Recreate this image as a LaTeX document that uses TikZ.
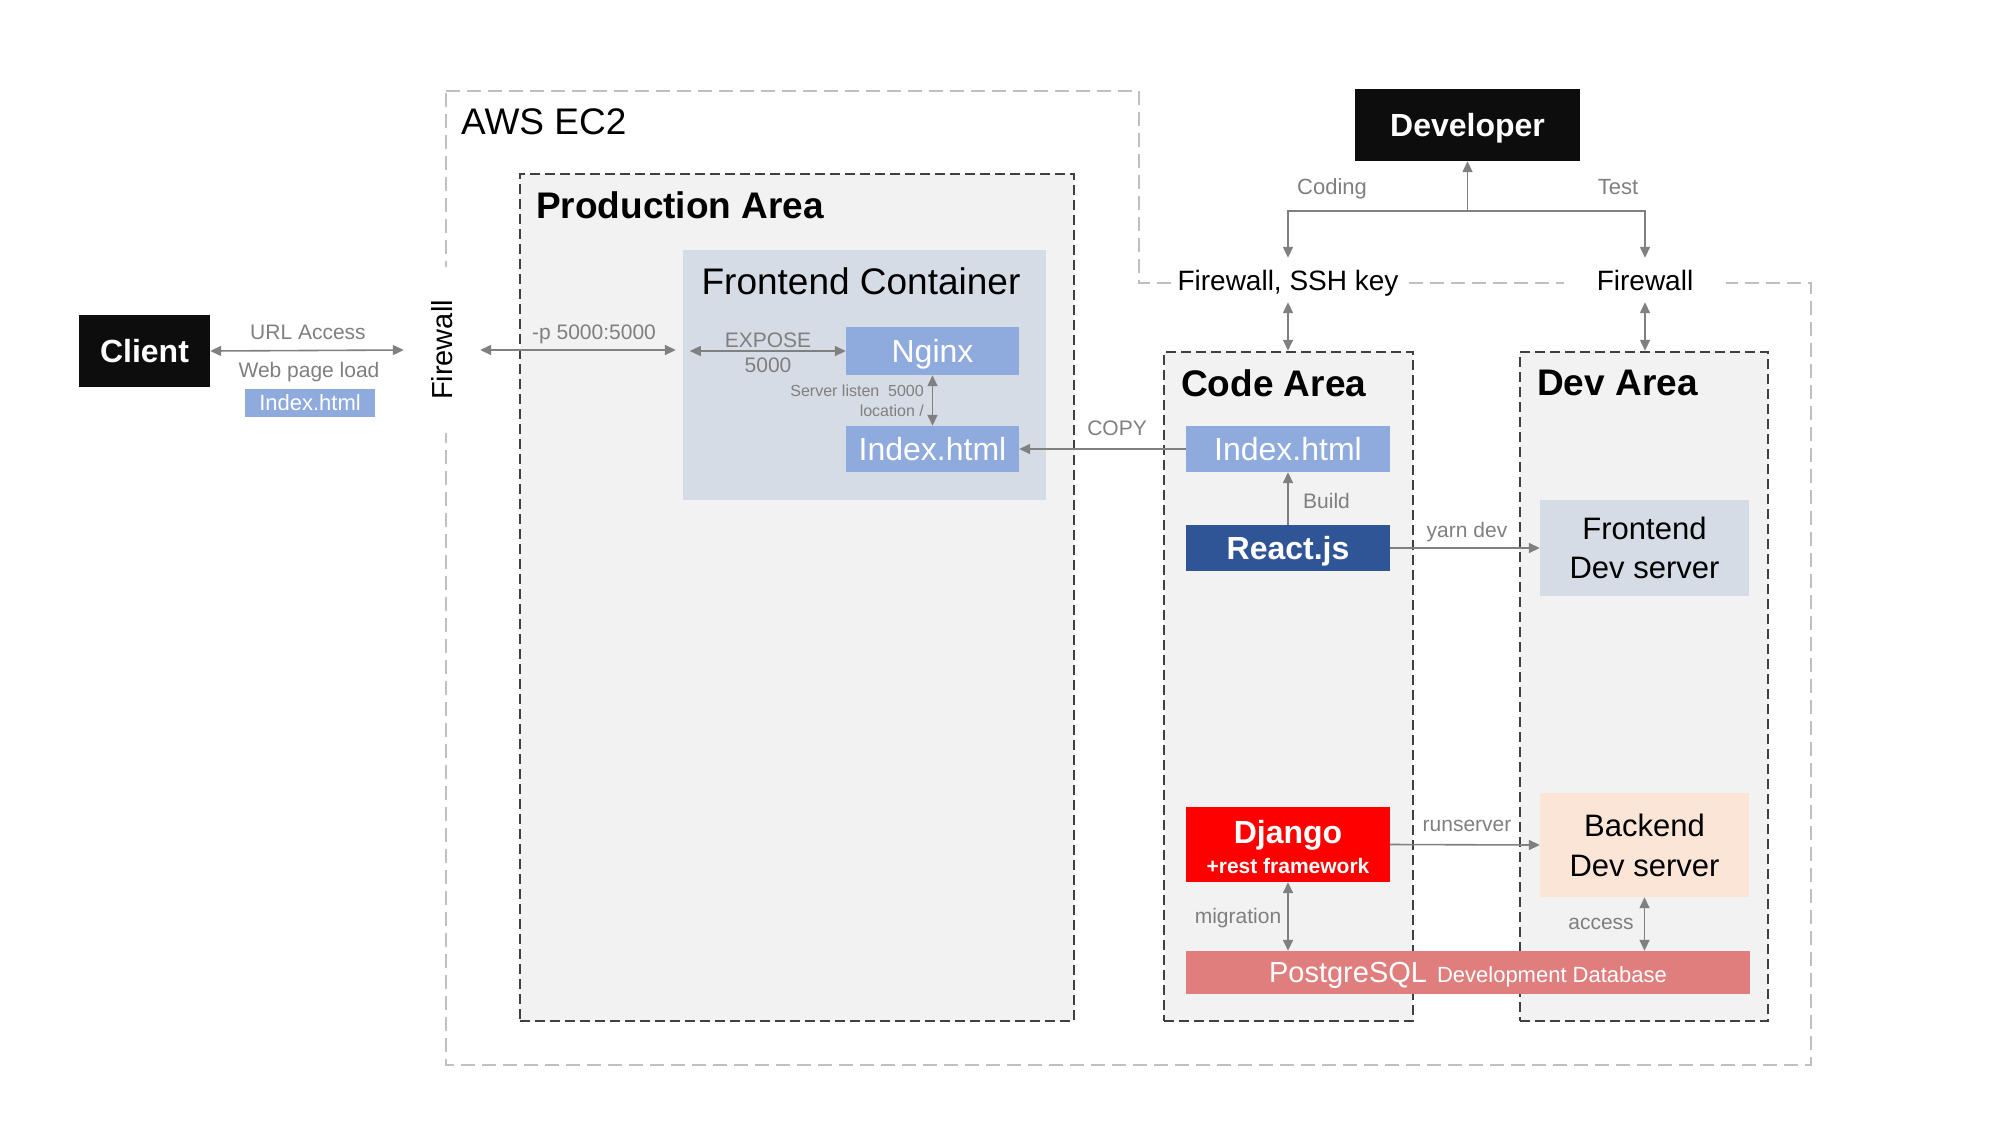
\documentclass[tikz,border=0pt]{standalone}
\usepackage{fontspec}
\setmainfont{Liberation Sans}
\usetikzlibrary{arrows.meta}
\newcommand\fsz[2]{\fontsize{#1pt}{#2pt}\selectfont}
\definecolor{arrgray}{HTML}{808080}
\definecolor{lblgray}{HTML}{7F7F7F}
\definecolor{areafill}{HTML}{F2F2F2}
\definecolor{areaborder}{HTML}{404040}
\definecolor{awsgray}{HTML}{C0C0C0}
\definecolor{contfill}{HTML}{D6DCE5}
\definecolor{lightblue}{HTML}{8FAADC}
\definecolor{darkblue}{HTML}{2F5597}
\definecolor{djred}{HTML}{FF0000}
\definecolor{peach}{HTML}{FBE5D6}
\definecolor{pgred}{HTML}{E07E7E}
\definecolor{nearblack}{HTML}{0D0D0D}
\begin{document}
\begin{tikzpicture}[x=1pt,y=-1pt,
  awsline/.style={draw=awsgray, line width=2pt, dash pattern=on 14pt off 7pt},
  area/.style={fill=areafill, draw=areaborder, line width=2.5pt, dash pattern=on 10pt off 5pt, inner sep=0pt},
  nodepth/.style={text depth=0pt},
  blackbox/.style={fill=nearblack, text=white, font=\bfseries\fsz{32}{38}, inner sep=0pt, align=center, nodepth},
  bluebox/.style={fill=lightblue, text=white, inner sep=0pt, align=center, nodepth},
  darkbox/.style={fill=darkblue, text=white, inner sep=0pt, align=center, nodepth},
  redbox/.style={fill=djred, text=white, inner sep=0pt, align=center},
  paleblue/.style={fill=contfill, text=black, inner sep=0pt, align=center},
  peachbox/.style={fill=peach, text=black, inner sep=0pt, align=center},
  pgbox/.style={fill=pgred, text=white, inner sep=0pt, align=center, nodepth},
  lbl/.style={text=lblgray, font=\fsz{21}{25}, inner sep=0pt, align=center, nodepth},
  title/.style={text=black, inner sep=0pt, anchor=west},
  gapnode/.style={fill=white, text=black, inner sep=0pt, nodepth},
  arr/.style={draw=arrgray, line width=1.6pt, -{Triangle[length=11pt,width=10pt]}},
  biarr/.style={draw=arrgray, line width=1.6pt, {Triangle[length=11pt,width=10pt]}-{Triangle[length=11pt,width=10pt]}}
]
\useasboundingbox (0,0) rectangle (1993,1125);

% AWS EC2 outline
\draw[awsline] (446,91) -- (1139,91) -- (1139,283) -- (1811,283) -- (1811,1065) -- (446,1065) -- cycle;
\node[title, font=\fsz{37}{42}] (aws) at (461,122) {AWS EC2};

% firewall labels cutting the outline
\node[gapnode, minimum width=76pt, minimum height=166pt] (fw) at (442,350) {\rotatebox{90}{\fsz{29}{35}Firewall}};
\node[gapnode, font=\fsz{28}{34}, inner xsep=6pt, minimum height=44pt] (fwssh) at (1288,280) {Firewall, SSH key};
\node[gapnode, font=\fsz{28}{34}, inner xsep=33pt, minimum height=44pt] (fwdev) at (1645,280) {Firewall};

% Client
\node[blackbox, minimum width=131pt, minimum height=72pt] (client) at (144.5,351) {Client};
\node[bluebox, font=\fsz{22}{26}, minimum width=130pt, minimum height=28pt] (idxs) at (310,403) {Index.html};
\node[lbl] (urlacc) at (308,332) {URL Access};
\node[lbl] (webload) at (309,370) {Web page load};

% Production area
\node[area, minimum width=554pt, minimum height=847pt] (prod) at (797,597.5) {};
\node[title, font=\bfseries\fsz{37}{42}] (prodt) at (536,205) {Production Area};
\node[paleblue, minimum width=363pt, minimum height=250pt] (fc) at (864.5,375) {};
\node[inner sep=0pt, font=\fsz{37}{42}, nodepth] (fct) at (861,281) {Frontend Container};
\node[bluebox, font=\fsz{32}{38}, minimum width=173pt, minimum height=48pt] (nginx) at (932.5,351) {Nginx};
\node[bluebox, font=\fsz{32}{38}, minimum width=173pt, minimum height=46pt] (pidx) at (932.5,449) {Index.html};
\node[lbl] (expose) at (768,353) {EXPOSE\\5000};
\node[lbl, font=\fsz{16}{20}, anchor=east, align=right] (listen) at (924,401) {Server listen\ \ 5000\\location /};
\node[lbl] (portmap) at (594,332) {-p 5000:5000};

% Code area
\node[area, minimum width=249pt, minimum height=669pt] (code) at (1288.5,686.5) {};
\node[title, font=\bfseries\fsz{37}{42}] (codet) at (1181,383) {Code Area};
\node[bluebox, font=\fsz{32}{38}, minimum width=204pt, minimum height=46pt] (cidx) at (1288,449) {Index.html};
\node[darkbox, font=\bfseries\fsz{32}{38}, minimum width=204pt, minimum height=46pt] (react) at (1288,548) {React.js};
\node[redbox, font=\bfseries\fsz{32}{30}, minimum width=204pt, minimum height=75pt] (django) at (1288,844.5) {};
\node[inner sep=0pt, text=white, font=\bfseries\fsz{32}{30}, align=center] (djtxt) at (1288,846.5) {Django\\{\fsz{21}{25}+rest framework}};

% Dev area
\node[area, minimum width=248pt, minimum height=669pt] (devarea) at (1644,686.5) {};
\node[title, font=\bfseries\fsz{37}{42}] (devt) at (1537,383) {Dev Area};
\node[paleblue, font=\fsz{31}{39}, minimum width=209pt, minimum height=96pt] (fds) at (1644.5,548) {Frontend\\Dev server};
\node[peachbox, font=\fsz{31}{40}, minimum width=209pt, minimum height=104pt] (bds) at (1644.5,845) {Backend\\Dev server};

% PostgreSQL
\node[pgbox, minimum width=564pt, minimum height=43pt] (pg) at (1468,972.5) {{\fsz{29}{35}PostgreSQL}\hspace{10pt}{\fsz{22}{26}Development Database}};

% Developer
\node[blackbox, minimum width=225pt, minimum height=72pt] (dev) at (1467.5,125) {Developer};
\coordinate (junc) at (1467.5,211);

% connectors
\draw[biarr] (client.east) -- (fw.west);
\draw[biarr, shorten >=7pt] (fw.east) -- (fw.east -| fc.west);
\draw[biarr, shorten <=7pt] (fc.west |- nginx.west) -- (nginx.west);
\draw[biarr] (nginx.south) -- (pidx.north);
\draw[arr] (cidx.west) -- (pidx.east);
\node[lbl] (copy) at (1117,428) {COPY};
\draw[arr] (react.north) -- (cidx.south);
\node[lbl, anchor=west] (build) at (1303,501) {Build};
\draw[arr] (react.east) -- (fds.west);
\node[lbl] (yarn) at (1467,530) {yarn dev};
\draw[arr] (django.east) -- (bds.west);
\node[lbl] (runsrv) at (1467,826) {runserver};
\draw[biarr] (django.south) -- (django.south |- pg.north);
\node[lbl] (migr) at (1238,916) {migration};
\draw[biarr] (bds.south) -- (bds.south |- pg.north);
\node[lbl] (access) at (1601,924) {access};

\draw[arr] (junc) -- (dev.south);
\draw[arr] (junc) -| (fwssh.north);
\draw[arr] (junc) -| (fwdev.north);
\node[lbl, font=\fsz{22}{26}] (coding) at (1332,187) {Coding};
\node[lbl, font=\fsz{22}{26}] (test) at (1618,187) {Test};
\draw[biarr] (fwssh.south) -- (fwssh.south |- code.north);
\draw[biarr] (fwdev.south) -- (fwdev.south |- devarea.north);
\end{tikzpicture}
\end{document}
